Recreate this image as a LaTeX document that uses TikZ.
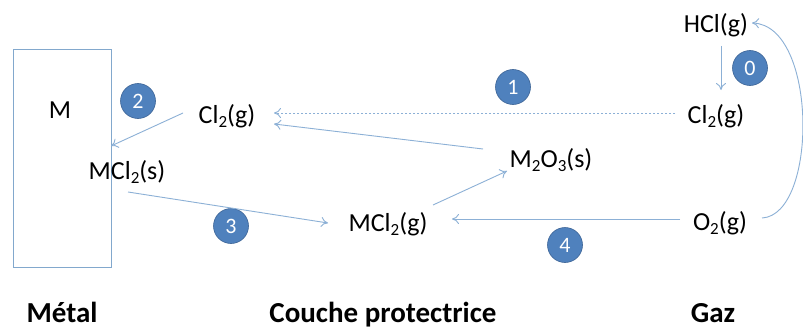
\documentclass[tikz,border=0pt]{standalone}
\usepackage{fontspec}
\setmainfont{Carlito}
\usetikzlibrary{arrows.meta}
\definecolor{linec}{RGB}{140,176,214}
\definecolor{boxc}{RGB}{130,168,205}
\definecolor{circf}{RGB}{79,129,189}
\definecolor{circd}{RGB}{60,100,150}
\newcommand\chsub[1]{\raisebox{-0.35ex}{\fontsize{17}{17}\selectfont #1}}
\tikzset{
  chem/.style={font=\fontsize{26}{28}\selectfont, inner sep=1pt, text=black, anchor=base},
  num/.style={circle, fill=circf, draw=circd, line width=0.6pt, minimum size=35pt, inner sep=0pt, text=white, font=\fontsize{22}{24}\selectfont},
  arr/.style={draw=linec, line width=0.9pt, -{To[length=7pt,width=10pt]}},
  zone/.style={font=\fontsize{29}{31}\selectfont\bfseries, text=black, anchor=base, inner sep=0pt}
}
\begin{document}
\begin{tikzpicture}[x=1pt,y=-1pt]
\useasboundingbox (0,0) rectangle (803,329);
\fill[white] (0,0) rectangle (803,329);
% metal box
\draw[boxc, line width=1pt] (13,50) rectangle (111,267);
\node[chem] (M) at (60,118) {M};
\node[chem] (mcls) at (127,179) {MCl\chsub{2}(s)};
\node[chem] (cl2l) at (227,123) {Cl\chsub{2}(g)};
\node[chem] (m2o3) at (551,167) {M\chsub{2}O\chsub{3}(s)};
\node[chem] (mclg) at (388,231) {MCl\chsub{2}(g)};
\node[chem] (hcl) at (716,33) {HCl(g)};
\node[chem] (cl2r) at (716,123) {Cl\chsub{2}(g)};
\node[chem] (o2) at (720,230) {O\chsub{2}(g)};
% numbers
\node[num] (n0) at (750,68) {0};
\node[num] (n1) at (513,87) {1};
\node[num] (n2) at (138,101) {2};
\node[num] (n3) at (231,226) {3};
\node[num] (n4) at (565,245) {4};
% coordinates
\coordinate (a2s) at (183,113);
\coordinate (a2e) at (111,146);
\coordinate (a3s) at (128,192);
\coordinate (a3e) at (328,223);
\coordinate (dots) at (675,113);
\coordinate (dote) at (274,113);
\coordinate (m2s) at (483,149);
\coordinate (m2e) at (274,124);
\coordinate (mgs) at (433,205);
\coordinate (mge) at (507,171);
\coordinate (a4s) at (680,219);
\coordinate (a4e) at (452,219);
\coordinate (h0s) at (721,46);
\coordinate (h0e) at (721,90);
\coordinate (cs) at (762,218);
\coordinate (ce) at (752,23);
% arrows
\draw[arr] (a2s) -- (a2e);
\draw[arr] (a3s) -- (a3e);
\draw[arr, dashed, dash pattern=on 2pt off 2pt] (dots) -- (dote);
\draw[arr] (m2s) -- (m2e);
\draw[arr] (mgs) -- (mge);
\draw[arr] (a4s) -- (a4e);
\draw[arr] (h0s) -- (h0e);
\draw[arr] (cs) .. controls (818,215) and (818,25) .. (ce);
% zone labels
\node[zone] (metal) at (62,322) {Métal};
\node[zone] (couche) at (383,322) {Couche protectrice};
\node[zone] (gaz) at (713,322) {Gaz};
\end{tikzpicture}
\end{document}
